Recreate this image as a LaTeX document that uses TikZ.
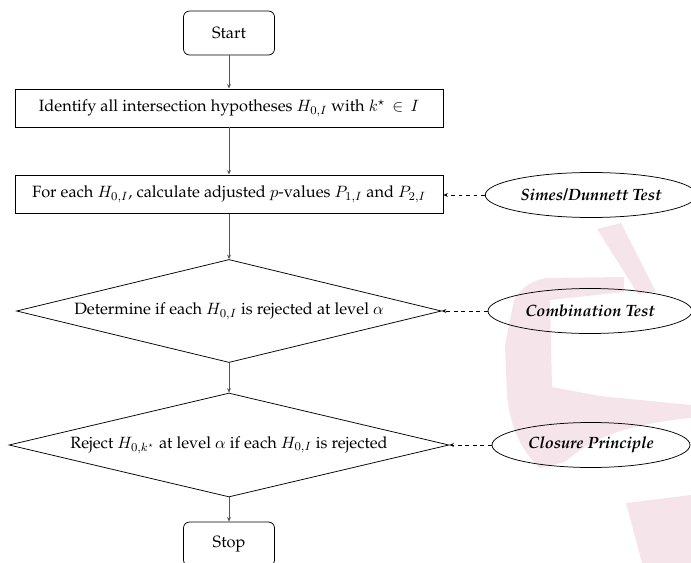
\documentclass[tikz,border=0pt]{standalone}
\usepackage[T1]{fontenc}
\renewcommand{\rmdefault}{ppl}
\usetikzlibrary{shapes.geometric,arrows.meta}
\definecolor{wmpink}{RGB}{245,229,235}
\definecolor{lineg}{RGB}{85,85,85}
\newcommand{\flowfont}{\fontsize{10.9}{13}\selectfont}
\tikzset{
  termbox/.style={draw=black,line width=0.5pt,rounded corners=4pt,minimum width=60.7pt,minimum height=29.3pt,inner sep=2pt,font=\flowfont},
  procbox/.style={draw=black,line width=0.5pt,minimum width=285.3pt,minimum height=25.5pt,inner sep=2pt,font=\flowfont},
  decbox/.style={draw=black,line width=0.5pt,diamond,shape aspect=4,inner sep=1pt,font=\flowfont},
  methell/.style={draw=black,line width=0.5pt,ellipse,inner sep=0pt,minimum height=30pt,font=\flowfont\bfseries\itshape},
  conn/.style={draw=lineg,line width=0.6pt,-{Stealth[length=3pt,width=2.6pt]}},
  dconn/.style={draw=black,line width=0.5pt,dash pattern=on 2.5pt off 2.5pt,-{Stealth[length=3pt,width=2.6pt]}}
}
\begin{document}
\begin{tikzpicture}[x=0.6667pt,y=-0.6667pt]
\useasboundingbox (0,0) rectangle (691,563);
\clip (0,0) rectangle (691,563);
% watermark
\fill[wmpink] (597,229) -- (621,223) -- (656,292) -- (638,294) -- cycle;
\fill[wmpink] (624,277) -- (545,278) .. controls (527,282) and (518,292) .. (514,300)
  -- (505,345) -- (507,395) .. controls (510,425) and (520,450) .. (540,468)
  -- (565,462) .. controls (590,440) and (620,425) .. (691,418)
  -- (691,405) -- (600,396) -- (552,387) -- (550,300) -- (624,292) -- cycle;
\fill[wmpink] (626,503) -- (691,495) -- (691,563) -- (642,563) -- cycle;
% nodes
\node[termbox] (start) at (229,33) {Start};
\node[procbox] (ident) at (229,108) {Identify all intersection hypotheses $H_{0,I}$ with $k^\star \,\in\, I$};
\node[procbox] (calc) at (229,194) {For each $H_{0,I}$, calculate adjusted $p$-values $P_{1,I}$ and $P_{2,I}$};
\node[decbox,minimum width=283.3pt,minimum height=68.7pt] (det) at (229,311) {Determine if each $H_{0,I}$ is rejected at level $\alpha$};
\node[decbox,minimum width=293.3pt,minimum height=69.3pt] (rej) at (229,445) {Reject $H_{0,k^\star}$ at level $\alpha$ if each $H_{0,I}$ is rejected};
\node[termbox] (stop) at (229,544) {Stop};
\node[methell,minimum width=141pt] (simes) at (591,195) {Simes/Dunnett Test};
\node[methell,minimum width=136pt] (comb) at (590,311) {Combination Test};
\node[methell,minimum width=132pt] (clos) at (591,445) {Closure Principle};
% connectors
\draw[conn] (start) -- (ident);
\draw[conn] (ident) -- (calc);
\draw[conn] (calc) -- (det);
\draw[conn] (det) -- (rej);
\draw[conn] (rej) -- (stop);
\draw[dconn] (simes.west) -- (simes.west -| calc.east);
\draw[dconn] (comb) -- (det);
\draw[dconn] (clos) -- (rej);
\end{tikzpicture}
\end{document}
